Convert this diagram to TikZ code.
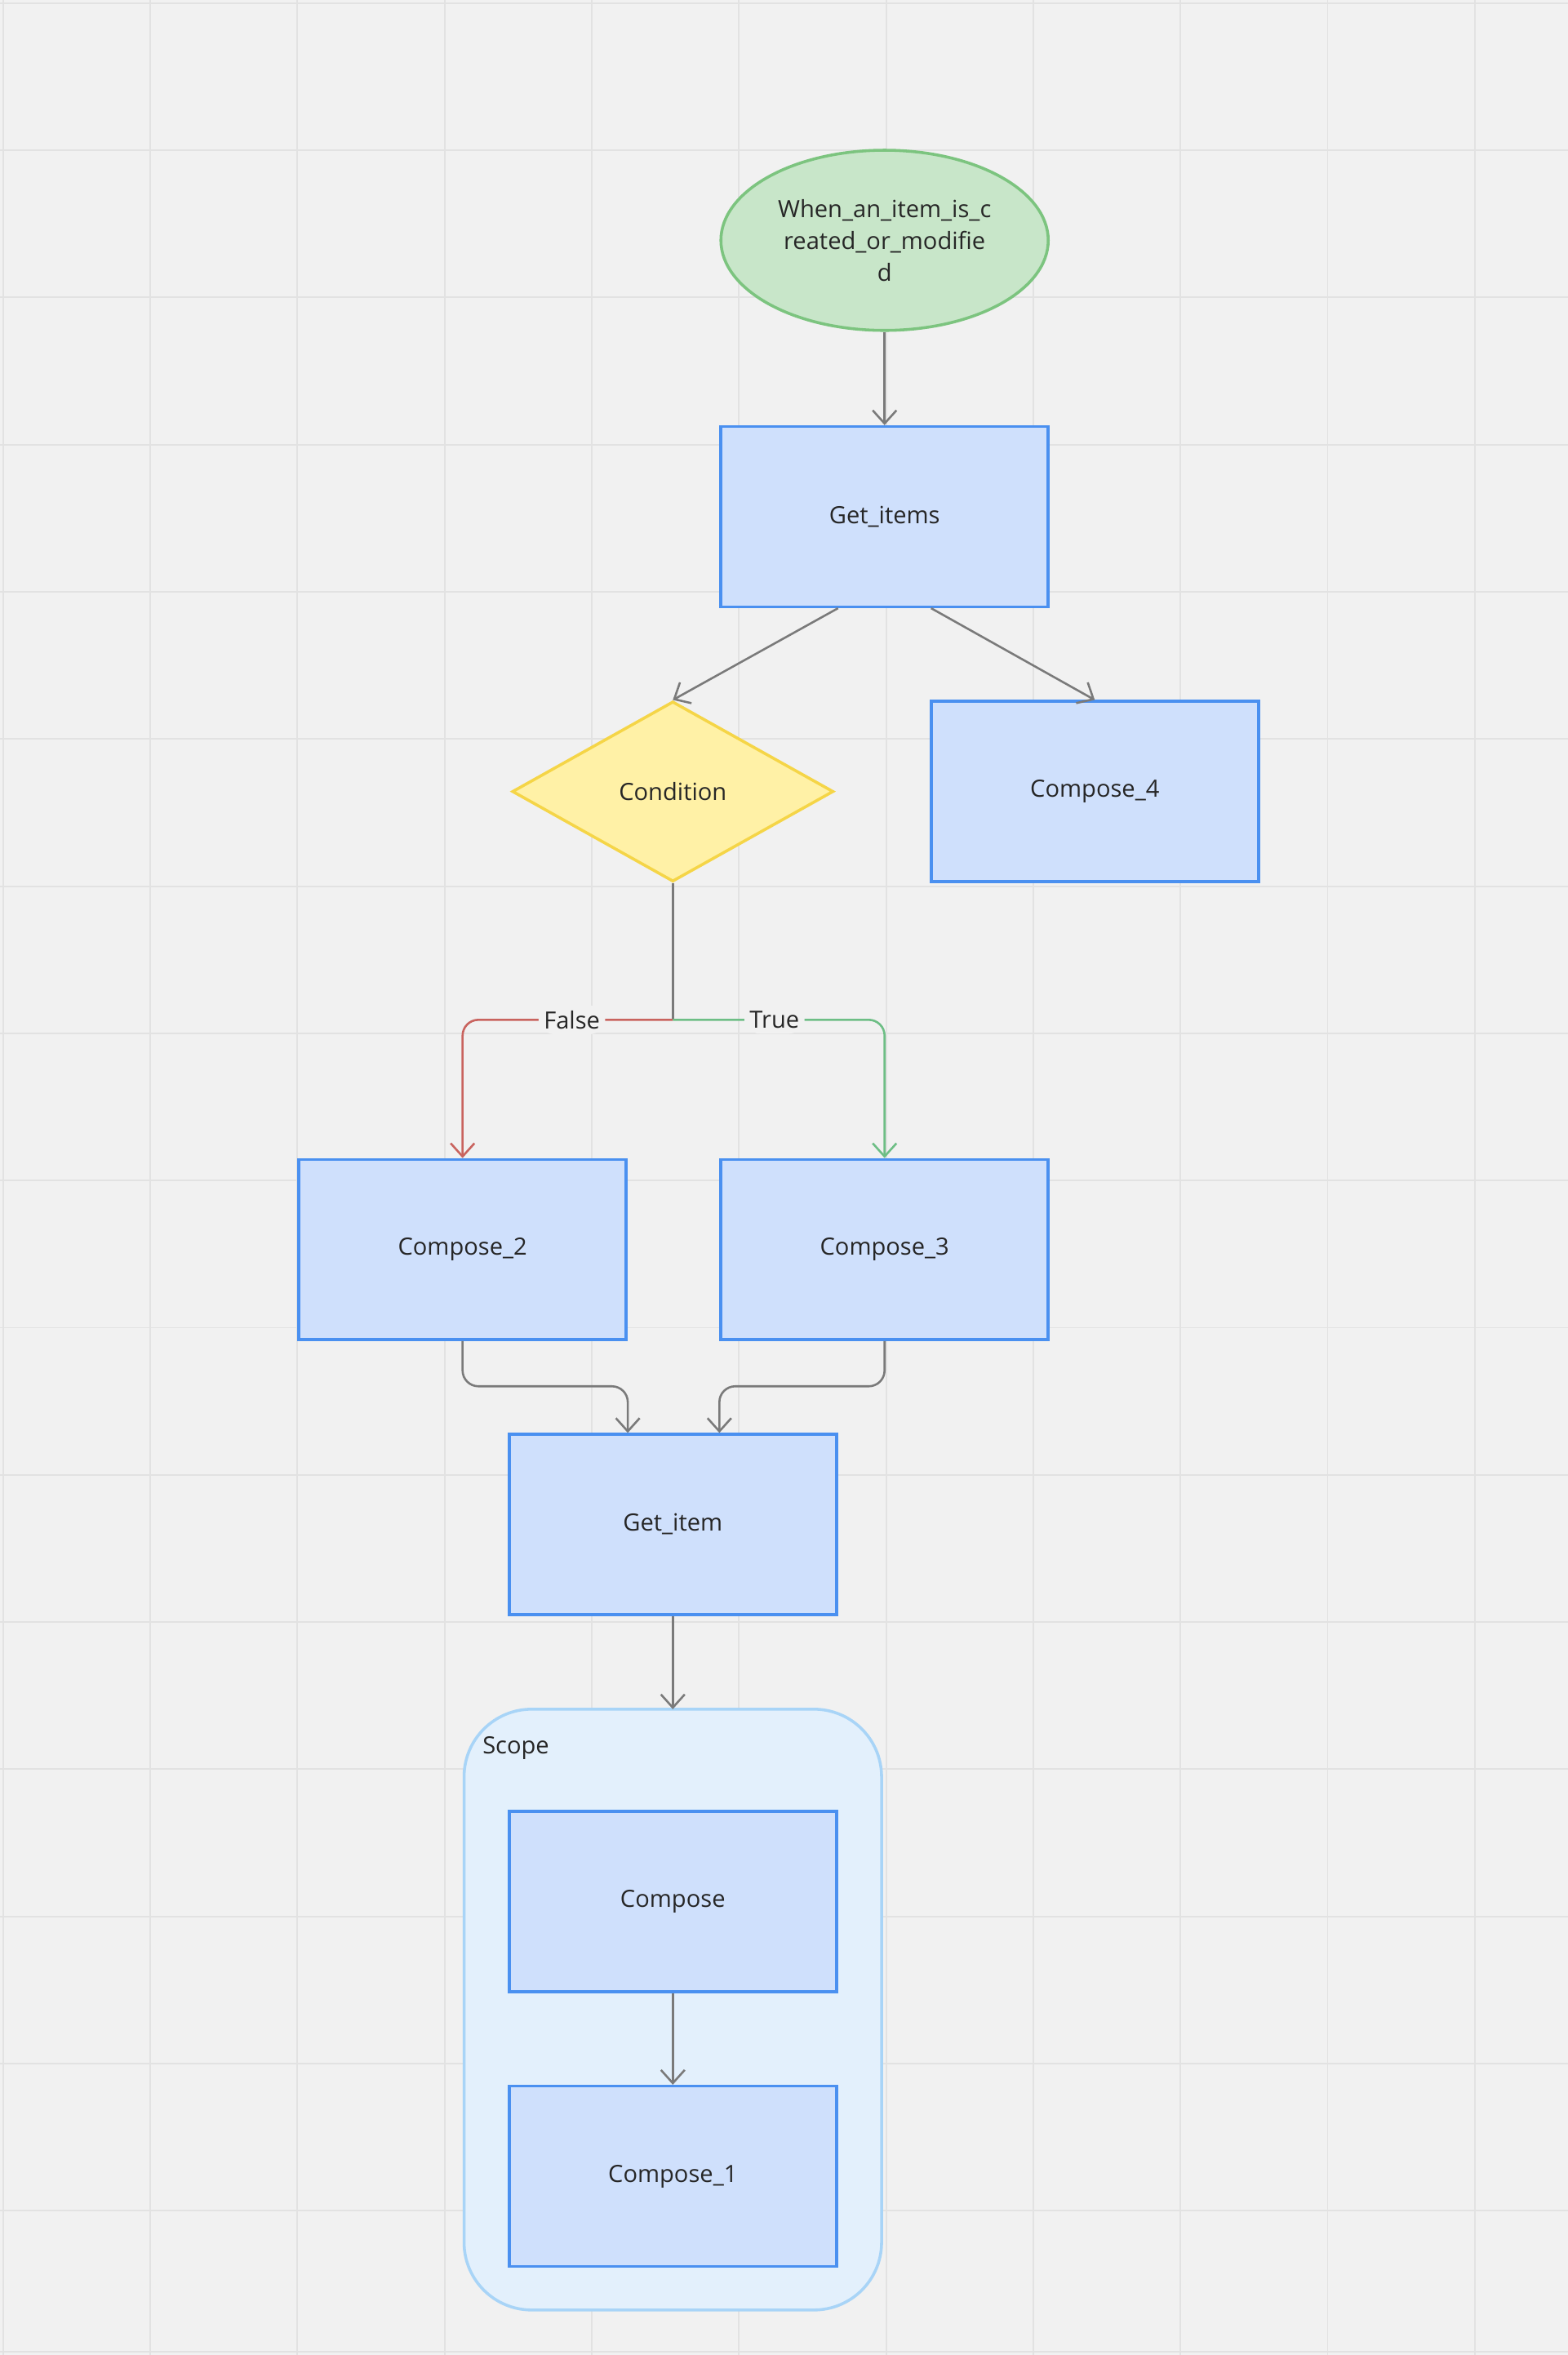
\documentclass[tikz,border=0pt]{standalone}
\usepackage{fontspec}
\setmainfont{Open Sans}
\usetikzlibrary{shapes.geometric,arrows.meta}
\definecolor{bgGray}{HTML}{F1F1F1}
\definecolor{gridGray}{HTML}{E2E2E2}
\definecolor{boxFill}{HTML}{CFE0FC}
\definecolor{boxLine}{HTML}{4A90F0}
\definecolor{startFill}{HTML}{C8E6C9}
\definecolor{startLine}{HTML}{7CC47F}
\definecolor{condFill}{HTML}{FFF1A6}
\definecolor{condLine}{HTML}{F5D547}
\definecolor{scopeFill}{HTML}{E3F0FC}
\definecolor{scopeLine}{HTML}{A8D4F7}
\definecolor{edgeGray}{HTML}{7A7A7A}
\definecolor{falseRed}{HTML}{C9635E}
\definecolor{trueGreen}{HTML}{6DBE85}
\begin{document}
\begin{tikzpicture}[x=0.02cm, y=-0.02cm,
            every node/.style={font=\fontsize{9}{12}\selectfont, text=black!85}]
            \tikzstyle{boxStyle} = [rectangle, draw=boxLine, fill=boxFill, line width=1.1pt,
                minimum width=4.36cm, minimum height=2.4cm]
            \tikzstyle{startStyle} = [ellipse, draw=startLine, fill=startFill, line width=1.1pt,
                minimum width=4.36cm, minimum height=2.4cm, inner sep=0, align=center]
            \tikzstyle{condStyle} = [diamond, draw=condLine, fill=condFill, line width=1.1pt,
                minimum width=4.28cm, minimum height=2.4cm, inner sep=0]
            \tikzstyle{flow} = [draw=edgeGray, line width=0.8pt, rounded corners=6pt,
                -{Straight Barb[length=5pt, width=9pt]}]
            \tikzstyle{edgeLabel} = [fill=bgGray, inner sep=2pt]
            \useasboundingbox (0,0) rectangle (1044,1568);
            \fill[bgGray] (0,0) rectangle (1044,1568);
            \foreach \gx in {2,100,198,296,394,492,590,688,786,884,982}
                \draw[gridGray, line width=0.6pt] (\gx,0) -- (\gx,1568);
            \foreach \gy in {2,100,198,296,394,492,590,688,786,884,982,1080,1178,1276,1374,1472,1566}
                \draw[gridGray, line width=0.6pt] (0,\gy) -- (1044,\gy);
            % scope container
            \draw[scopeLine, fill=scopeFill, line width=1.1pt, rounded corners=0.9cm]
                (309,1138) rectangle (587,1538);
            \node[anchor=west, inner sep=0] (scopeLabel) at (321,1164) {Scope};
            \coordinate (scopeTop) at (448,1138);
            % nodes
            \node[startStyle] (trigger) at (589,160) {When\_an\_item\_is\_c\\reated\_or\_modifie\\d};
            \node[boxStyle] (getItems) at (589,344) {Get\_items};
            \node[condStyle] (cond) at (448,527) {Condition};
            \node[boxStyle] (cmp4) at (729,527) {Compose\_4};
            \node[boxStyle] (cmp2) at (308,832) {Compose\_2};
            \node[boxStyle] (cmp3) at (589,832) {Compose\_3};
            \node[boxStyle] (getItem) at (448,1015) {Get\_item};
            \node[boxStyle] (cmp) at (448,1266) {Compose};
            \node[boxStyle] (cmp1) at (448,1449) {Compose\_1};
            \coordinate (split) at (448,679);
            \coordinate (j2) at (418,923);
            \coordinate (j3) at (479,923);
            % edges
            \path[flow] (trigger) -- (getItems);
            \path[flow] ([xshift=-0.62cm]getItems.south) -- (cond.north);
            \path[flow] ([xshift=0.62cm]getItems.south) -- (cmp4.north);
            \draw[edgeGray, line width=0.8pt] (cond.south) -- (split);
            \path[flow, draw=falseRed] (split) -| node[edgeLabel, pos=0.24] {False} (cmp2.north);
            \path[flow, draw=trueGreen] (split) -| node[edgeLabel, pos=0.24] {True} (cmp3.north);
            \path[flow] (cmp2.south) |- (j2) -- (j2 |- getItem.north);
            \path[flow] (cmp3.south) |- (j3) -- (j3 |- getItem.north);
            \path[flow] (getItem) -- (scopeTop);
            \path[flow] (cmp) -- (cmp1);
\end{tikzpicture}
\end{document}
